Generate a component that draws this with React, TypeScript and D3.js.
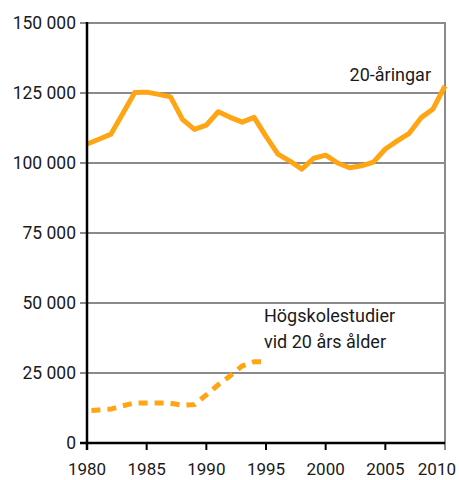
import React from "react";
import * as d3 from "d3";

const years: number[] = d3.range(1980, 2011);
const aringar: number[] = [
  106800, 108500, 110300, 117700, 125200, 125300, 124500, 123600, 115600, 112000,
  113500, 118300, 116300, 114600, 116300, 109500, 103200, 100700, 97800, 101700,
  102800, 100000, 98300, 99000, 100300, 105000, 107900, 110600, 116200, 119300, 127500,
];
const hsYears: number[] = d3.range(1980, 1996);
const hogskola: number[] = [
  11500, 11800, 12100, 13300, 14300, 14300, 14300, 14200, 13500, 13700,
  17200, 20800, 24000, 27500, 29000, 29000,
];
const yTicks: number[] = [0, 25000, 50000, 75000, 100000, 125000, 150000];
const xTicks: number[] = [1980, 1985, 1990, 1995, 2000, 2005, 2010];
const label1 = "20-åringar";
const label2 = ["Högskolestudier", "vid 20 års ålder"];

const W = 459;
const H = 480;
const ORANGE = "#FFA514";
const GRID = "#8a8a8a";
const FONT = "Roboto, 'Open Sans', sans-serif";
const DASH = 9;
const GAP = 7;

export default function App() {
  const x = d3.scaleLinear().domain([1980, 2010]).range([87, 445]);
  const y = d3.scaleLinear().domain([0, 150000]).range([443, 23]);
  const fmt = (v: number) => (v === 0 ? "0" : d3.format(",")(v).replace(/,/g, " "));

  const line1 = d3
    .line<number>()
    .x((_, i) => x(years[i]))
    .y((d) => y(d))(aringar) as string;
  const line2 = d3
    .line<number>()
    .x((_, i) => x(hsYears[i]))
    .y((d) => y(d))(hogskola) as string;

  // total length of dashed polyline, to end the pattern with a gap
  let L = 0;
  for (let i = 1; i < hogskola.length; i++) {
    const dx = x(hsYears[i]) - x(hsYears[i - 1]);
    const dy = y(hogskola[i]) - y(hogskola[i - 1]);
    L += Math.sqrt(dx * dx + dy * dy);
  }
  const period = DASH + GAP;
  const endGap = 5;
  const offset = (((DASH - (L - endGap)) % period) + period) % period;

  const x0 = x(1980);
  const x1 = x(2010);
  const yTop = y(150000);
  const yBot = y(0);

  return (
    <svg
      width={W}
      height={H}
      style={{ position: "absolute", left: 0, top: 0, background: "#fff" }}
      fontFamily={FONT}
    >
      {yTicks.map((t) =>
        t === 0 ? null : (
          <line key={t} x1={x0 - 7} x2={x1} y1={y(t)} y2={y(t)} stroke={GRID} strokeWidth={2} />
        )
      )}
      <line x1={x1} x2={x1} y1={yTop - 1} y2={yBot + 7} stroke={GRID} strokeWidth={2} />
      {yTicks.map((t) => (
        <text
          key={"l" + t}
          x={76}
          y={y(t)}
          dy="0.35em"
          textAnchor="end"
          fontSize={17.5}
          fill="#1a1a1a"
        >
          {fmt(t)}
        </text>
      ))}
      {xTicks.map((t) => (
        <g key={"x" + t}>
          {t !== 2010 && (
            <line x1={x(t)} x2={x(t)} y1={yBot} y2={yBot + 7} stroke="#000" strokeWidth={2} />
          )}
          <text
            x={t === 2010 ? 456 : x(t)}
            y={475}
            textAnchor={t === 2010 ? "end" : "middle"}
            fontSize={17}
            fill="#1a1a1a"
          >
            {t}
          </text>
        </g>
      ))}
      <path
        d={line2}
        fill="none"
        stroke={ORANGE}
        strokeWidth={5}
        strokeDasharray={`${DASH},${GAP}`}
        strokeDashoffset={offset}
      />
      <path d={line1} fill="none" stroke={ORANGE} strokeWidth={5} strokeLinejoin="round" />
      <line x1={x0 - 7} x2={x1} y1={yBot} y2={yBot} stroke="#000" strokeWidth={2.5} />
      <line x1={x0} x2={x0} y1={yTop - 1} y2={yBot + 7} stroke="#000" strokeWidth={2.5} />
      <text x={431} y={81} textAnchor="end" fontSize={18} fill="#1a1a1a">
        {label1}
      </text>
      {label2.map((s, i) => (
        <text key={s} x={264} y={322 + i * 26} fontSize={18} fill="#1a1a1a">
          {s}
        </text>
      ))}
    </svg>
  );
}
